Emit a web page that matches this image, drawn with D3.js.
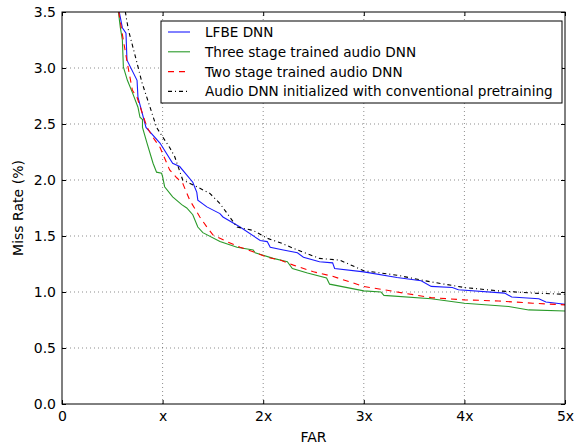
<!DOCTYPE html>
<html>
<head>
<meta charset="utf-8">
<script src="https://cdn.jsdelivr.net/npm/d3@7"></script>
<style>
body{margin:0;background:#fff}
svg text{font-family:"DejaVu Sans",sans-serif;fill:#000}
</style>
</head>
<body>
<script>
// values (FAR in units of x, miss rate in %)
const lfbe_x=[0.547,0.60,0.636,0.646,0.746,0.755,0.835,0.974,1.10,1.17,1.30,1.34,1.35,1.44,1.57,1.60,1.77,1.97,2.04,2.07,2.20,2.34,2.40,2.56,2.69,2.71,3.0,3.33,3.57,3.67,3.88,3.94,4.40,4.47,4.74,4.81,5.0]
const lfbe_y=[3.6,3.36,3.31,3.07,2.89,2.74,2.47,2.33,2.15,2.12,1.98,1.89,1.82,1.76,1.70,1.67,1.58,1.46,1.45,1.40,1.375,1.35,1.31,1.27,1.26,1.21,1.18,1.13,1.10,1.05,1.04,1.02,0.99,0.955,0.94,0.91,0.89]

const three_x=[0.547,0.58,0.60,0.61,0.65,0.70,0.755,0.775,0.80,0.80,0.845,0.905,0.94,0.99,1.0,1.02,1.10,1.19,1.24,1.30,1.35,1.40,1.57,1.74,1.90,1.92,2.10,2.24,2.29,2.44,2.63,2.66,3.0,3.17,3.20,3.67,4.0,4.44,4.64,5.0]
const three_y=[3.6,3.36,3.25,3.01,2.89,2.78,2.65,2.56,2.54,2.47,2.33,2.15,2.07,2.06,2.03,1.94,1.85,1.78,1.75,1.69,1.58,1.53,1.45,1.40,1.375,1.35,1.30,1.27,1.21,1.17,1.125,1.07,1.01,1.0,0.97,0.94,0.90,0.87,0.84,0.83]

const two_x=[0.547,0.60,0.65,0.70,0.745,0.845,0.92,0.975,1.07,1.14,1.20,1.27,1.37,1.44,1.50,1.64,1.77,1.90,2.04,2.17,2.30,2.50,2.69,3.0,3.33,3.67,4.0,4.34,4.68,5.0]
const two_y=[3.6,3.3,3.04,2.80,2.74,2.47,2.36,2.29,2.09,2.02,1.97,1.82,1.67,1.58,1.51,1.45,1.40,1.36,1.31,1.285,1.24,1.18,1.14,1.05,1.0,0.95,0.93,0.92,0.90,0.885]

const conv_x=[0.60,0.63,0.66,0.73,0.795,0.875,0.94,0.975,1.07,1.12,1.20,1.34,1.47,1.57,1.74,1.90,2.04,2.17,2.34,2.56,2.76,3.0,3.33,3.67,4.0,4.34,4.68,5.0]
const conv_y=[3.7,3.5,3.34,3.10,2.87,2.65,2.47,2.42,2.29,2.21,2.0,1.94,1.88,1.79,1.58,1.55,1.48,1.44,1.375,1.30,1.285,1.19,1.15,1.09,1.04,1.01,0.99,0.98]

const x_ticks=[0,1,2,3,4,5]
const x_tick_labels=["0","x","2x","3x","4x","5x"]
const y_ticks=[0,0.5,1,1.5,2,2.5,3,3.5]

const series=[
	{name:"LFBE DNN",xs:lfbe_x,ys:lfbe_y,color:"#1a1aff",dash:null},
	{name:"Three stage trained audio DNN",xs:three_x,ys:three_y,color:"#2a9a2a",dash:null},
	{name:"Two stage trained audio DNN",xs:two_x,ys:two_y,color:"#ff0000",dash:"6,5"},
	{name:"Audio DNN initialized with conventional pretraining",xs:conv_x,ys:conv_y,color:"#000",dash:"4,3,1,3"}
]

const W=576,H=444
const m={l:62,t:12,r:11,b:40}

const svg=d3.select("body").append("svg").attr("width",W).attr("height",H)

const x=d3.scaleLinear().domain([0,5]).range([m.l,W-m.r])
const y=d3.scaleLinear().domain([0,3.5]).range([H-m.b,m.t])

svg.append("defs").append("clipPath").attr("id","plotclip")
	.append("rect").attr("x",m.l).attr("y",m.t).attr("width",W-m.r-m.l).attr("height",H-m.b-m.t)

// grid
const grid=svg.append("g").attr("stroke","#000").attr("stroke-width",0.6).attr("stroke-dasharray","1,3").attr("opacity",0.75)
grid.selectAll("line.gx").data(x_ticks.slice(1,-1)).enter().append("line")
	.attr("x1",d=>x(d)).attr("x2",d=>x(d)).attr("y1",y(0)).attr("y2",y(3.5))
grid.selectAll("line.gy").data(y_ticks.slice(1,-1)).enter().append("line")
	.attr("y1",d=>y(d)).attr("y2",d=>y(d)).attr("x1",x(0)).attr("x2",x(5))

// lines
const line=d3.line().x(d=>x(d[0])).y(d=>y(d[1]))
const plot=svg.append("g").attr("clip-path","url(#plotclip)")
for(const s of series){
	plot.append("path")
		.attr("d",line(d3.zip(s.xs,s.ys)))
		.attr("fill","none")
		.attr("stroke",s.color)
		.attr("stroke-width",1.1)
		.attr("stroke-dasharray",s.dash)
}

// axes (classic style: ticks inward on all sides)
const ax_b=d3.axisBottom(x).tickValues(x_ticks).tickFormat((d,i)=>x_tick_labels[i]).tickSizeInner(-4).tickSizeOuter(0).tickPadding(7)
const ax_l=d3.axisLeft(y).tickValues(y_ticks).tickFormat(d3.format(".1f")).tickSizeInner(-4).tickSizeOuter(0).tickPadding(6)
const ax_t=d3.axisTop(x).tickValues(x_ticks).tickFormat("").tickSizeInner(-4).tickSizeOuter(0)
const ax_r=d3.axisRight(y).tickValues(y_ticks).tickFormat("").tickSizeInner(-4).tickSizeOuter(0)

function style_axis(g){
	g.select(".domain").remove()
	g.selectAll("line").attr("stroke","#000")
	g.selectAll("text").attr("font-size",14).attr("font-family","DejaVu Sans, sans-serif")
}
svg.append("g").attr("transform",`translate(0,${y(0)})`).call(ax_b).call(style_axis)
svg.append("g").attr("transform",`translate(${x(0)},0)`).call(ax_l).call(style_axis)
svg.append("g").attr("transform",`translate(0,${y(3.5)})`).call(ax_t).call(style_axis)
svg.append("g").attr("transform",`translate(${x(5)},0)`).call(ax_r).call(style_axis)

svg.append("rect").attr("x",m.l).attr("y",m.t).attr("width",W-m.r-m.l).attr("height",H-m.b-m.t)
	.attr("fill","none").attr("stroke","#000").attr("stroke-width",1)

// axis titles
svg.append("text").attr("x",(x(0)+x(5))/2).attr("y",442).attr("text-anchor","middle").attr("font-size",14).text("FAR")
svg.append("text").attr("transform",`translate(23,${(y(0)+y(3.5))/2}) rotate(-90)`).attr("text-anchor","middle").attr("font-size",14).text("Miss Rate (%)")

// legend
const lg=svg.append("g").attr("transform","translate(161,21)")
lg.append("rect").attr("width",401).attr("height",82).attr("fill","#fff").attr("stroke","#000").attr("stroke-width",1)
const row=lg.selectAll("g").data(series).enter().append("g")
	.attr("transform",(d,i)=>`translate(0,${11+i*19.8})`)
row.append("line").attr("x1",7).attr("x2",29).attr("y1",0).attr("y2",0)
	.attr("stroke",d=>d.color).attr("stroke-width",1.1).attr("stroke-dasharray",d=>d.dash)
row.append("text").attr("x",44).attr("y",5).attr("font-size",13.6).text(d=>d.name)
</script>
</body>
</html>
